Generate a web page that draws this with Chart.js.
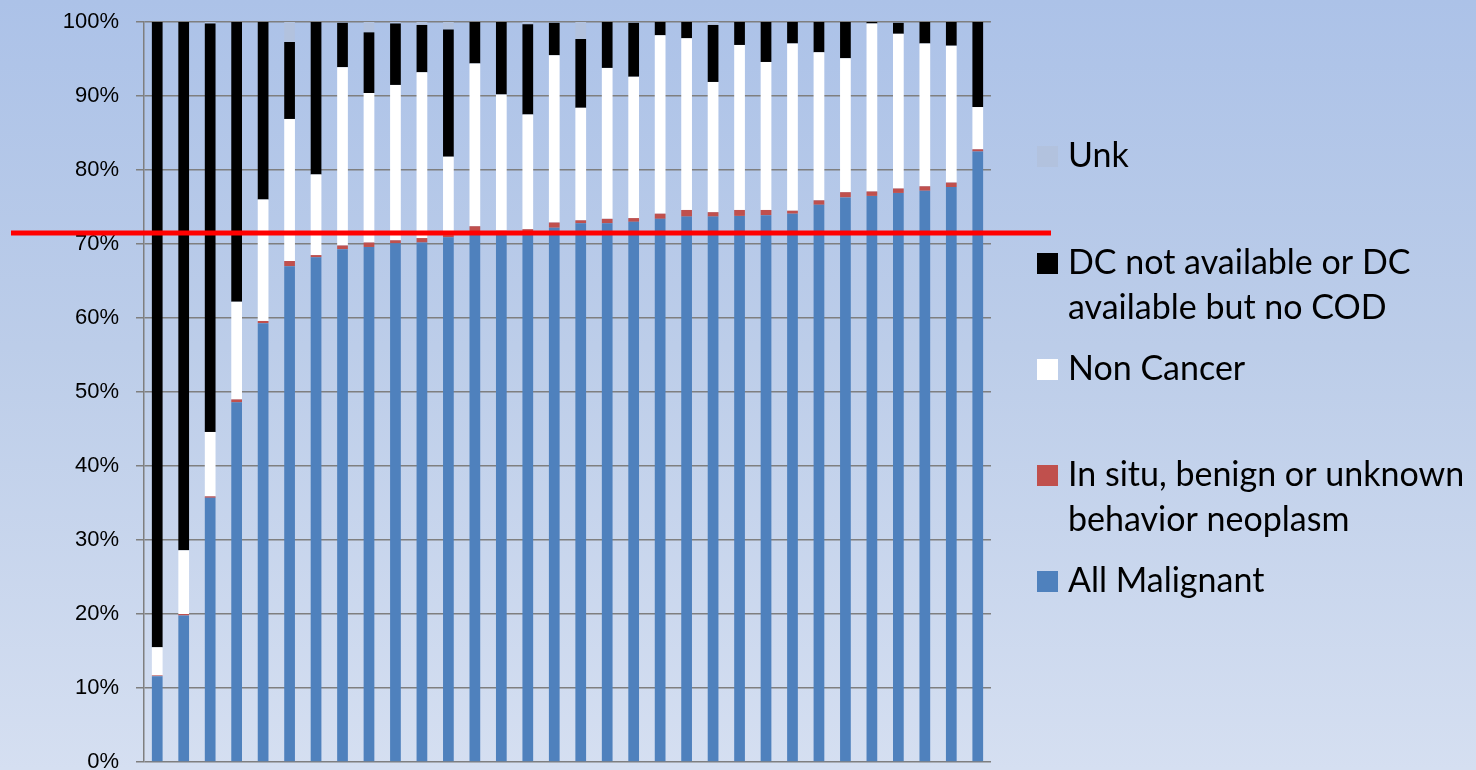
<!DOCTYPE html>
<html>
<head>
<meta charset="utf-8">
<script src="https://cdn.jsdelivr.net/npm/chart.js@4"></script>
<style>
  html, body { margin: 0; padding: 0; }
  body {
    width: 1476px; height: 770px; overflow: hidden;
    background: linear-gradient(to bottom, #acc2e8 0%, #bccde9 45%, #d5dff1 100%);
  }
  #wrap { position: relative; width: 1476px; height: 770px; }
</style>
</head>
<body>
<div id="wrap"><canvas id="chart" width="1476" height="770"></canvas></div>
<script>
// Registries, ordered by share of deaths coded as malignant
const registries = ['1','2','3','4','5','6','7','8','9','10','11','12','13','14','15','16',
                    '17','18','19','20','21','22','23','24','25','26','27','28','29','30','31','32'];

// Percent of death-certificate records in each cause category
const allMalignant = [11.6, 19.8, 35.7, 48.6, 59.3, 67.0, 68.2, 69.3, 69.6, 70.1, 70.2, 70.9, 71.6, 71.5, 71.7, 72.2,
                      72.8, 72.8, 73.0, 73.4, 73.7, 73.7, 73.8, 73.9, 74.1, 75.3, 76.3, 76.5, 76.9, 77.2, 77.7, 82.5];
const inSitu       = [0.1, 0.2, 0.2, 0.4, 0.3, 0.7, 0.3, 0.5, 0.6, 0.4, 0.6, 0.3, 0.8, 0.3, 0.3, 0.7,
                      0.4, 0.6, 0.5, 0.7, 0.9, 0.6, 0.8, 0.7, 0.4, 0.6, 0.7, 0.6, 0.6, 0.6, 0.6, 0.3];
const nonCancer    = [3.8, 8.6, 8.7, 13.2, 16.4, 19.2, 10.9, 24.1, 20.2, 21.0, 22.4, 10.6, 22.0, 18.4, 15.5, 22.6,
                      15.2, 20.4, 19.1, 24.1, 23.2, 17.6, 22.3, 20.0, 22.6, 20.0, 18.1, 22.7, 20.9, 19.3, 18.5, 5.7];
const dcNoCod      = [84.5, 71.4, 55.2, 37.8, 24.0, 10.4, 20.6, 6.0, 8.2, 8.3, 6.4, 17.2, 5.6, 9.8, 12.2, 4.4,
                      9.3, 6.2, 7.3, 1.8, 2.2, 7.7, 3.1, 5.4, 2.9, 4.1, 4.9, 0.2, 1.5, 2.9, 3.2, 11.5];
const unknown      = [0, 0, 0.2, 0, 0, 2.7, 0, 0.1, 1.4, 0.2, 0.4, 1.0, 0, 0, 0.3, 0.1,
                      2.3, 0, 0.1, 0, 0, 0.4, 0, 0, 0, 0, 0, 0, 0.1, 0, 0, 0];

// Tick labels on the value axis
const yTicks = [0, 10, 20, 30, 40, 50, 60, 70, 80, 90, 100];

// Benchmark level drawn across the chart
const benchmark = 71.5;

// Legend text, one array of lines per series (top entry first)
const legendLines = {
  unk: ['Unk'],
  dc: ['DC not available or DC', 'available but no COD'],
  nc: ['Non Cancer'],
  insitu: ['In situ, benign or unknown', 'behavior neoplasm'],
  mal: ['All Malignant']
};

const datasets = [
  { key: 'mal',    label: 'All Malignant', data: allMalignant, backgroundColor: '#4f81bd' },
  { key: 'insitu', label: 'In situ, benign or unknown behavior neoplasm', data: inSitu, backgroundColor: '#c0504d' },
  { key: 'nc',     label: 'Non Cancer', data: nonCancer, backgroundColor: '#ffffff' },
  { key: 'dc',     label: 'DC not available or DC available but no COD', data: dcNoCod, backgroundColor: '#000000' },
  { key: 'unk',    label: 'Unk', data: unknown, backgroundColor: '#b2c2de' }
].map(d => Object.assign(d, { barPercentage: 0.405, categoryPercentage: 1.0, borderWidth: 0 }));

// Horizontal benchmark line, wider than the plot area
const benchmarkLine = {
  id: 'benchmarkLine',
  afterDatasetsDraw(chart) {
    const y = chart.scales.y.getPixelForValue(benchmark);
    const ctx = chart.ctx;
    ctx.save();
    ctx.strokeStyle = '#ff0000';
    ctx.lineWidth = 5;
    ctx.beginPath();
    ctx.moveTo(11, y);
    ctx.lineTo(1051, y);
    ctx.stroke();
    ctx.restore();
  }
};

// Side legend: reversed series order, box + wrapped label lines
const sideLegend = {
  id: 'sideLegend',
  afterDraw(chart) {
    const ctx = chart.ctx;
    const boxTops = { unk: 146, dc: 253, nc: 359, insitu: 465, mal: 571 };
    const boxSize = 21, boxX = 1037, textX = 1068, lineGap = 45;
    ctx.save();
    ctx.font = '34px Lato, "Open Sans", sans-serif';
    ctx.textBaseline = 'alphabetic';
    ctx.textAlign = 'left';
    chart.data.datasets.slice().reverse().forEach(ds => {
      const top = boxTops[ds.key];
      ctx.fillStyle = ds.backgroundColor;
      ctx.fillRect(boxX, top, boxSize, boxSize);
      ctx.fillStyle = '#000000';
      legendLines[ds.key].forEach((line, i) => {
        ctx.fillText(line, textX, top + boxSize + i * lineGap);
      });
    });
    ctx.restore();
  }
};

new Chart(document.getElementById('chart'), {
  type: 'bar',
  data: { labels: registries, datasets },
  options: {
    responsive: false,
    animation: false,
    layout: { padding: { left: 0, right: 485, top: 22, bottom: 8 } },
    plugins: { legend: { display: false }, tooltip: { enabled: false } },
    scales: {
      x: { stacked: true, display: false },
      y: {
        stacked: true,
        min: 0,
        max: 100,
        afterBuildTicks(scale) { scale.ticks = yTicks.map(v => ({ value: v })); },
        afterFit(scale) { scale.width = 144; scale.paddingTop = 0; scale.paddingBottom = 0; },
        ticks: {
          callback: v => v + '%',
          color: '#000000',
          padding: 17,
          font: { family: '"Liberation Sans", Arial, sans-serif', size: 22 }
        },
        grid: { color: '#7f7f7f', lineWidth: 1.5, tickLength: 8, drawTicks: true },
        border: { display: true, color: '#7f7f7f', width: 1.5 }
      }
    }
  },
  plugins: [benchmarkLine, sideLegend]
});
</script>
</body>
</html>
